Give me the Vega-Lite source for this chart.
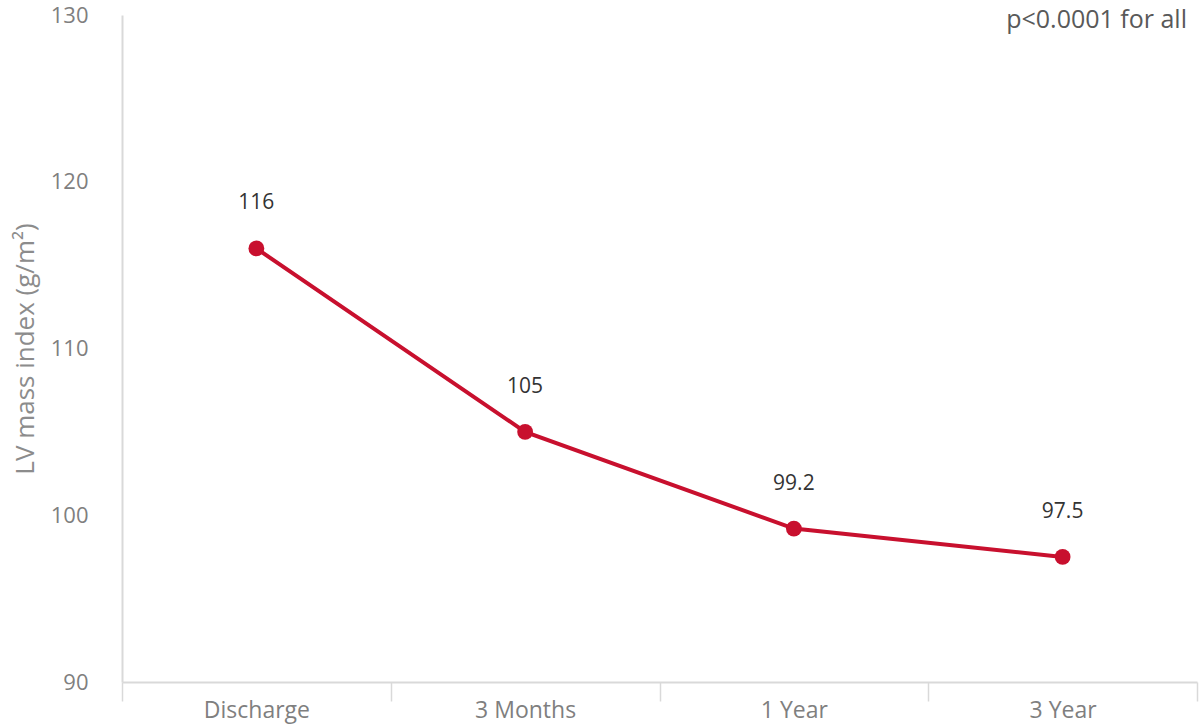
{
  "$schema": "https://vega.github.io/schema/vega-lite/v6.json",
  "width": 1075,
  "height": 667,
  "autosize": "none",
  "padding": {"left": 122, "top": 15, "right": 2, "bottom": 45},
  "background": "white",
  "config": {"view": {"stroke": null}, "font": "Open Sans"},
  "title": {"text": "p<0.0001 for all", "anchor": "end", "frame": "group", "orient": "top", "offset": -12, "dx": -10, "dy": 17, "fontSize": 25, "fontWeight": "normal", "color": "#595959"},
  "data": {"values": [
    {"time": "Discharge", "lvmi": 116, "label": "116"},
    {"time": "3 Months", "lvmi": 105, "label": "105"},
    {"time": "1 Year", "lvmi": 99.2, "label": "99.2"},
    {"time": "3 Year", "lvmi": 97.5, "label": "97.5"}
  ]},
  "encoding": {
    "x": {"field": "time", "type": "nominal", "sort": null,
      "axis": {"title": null, "labelAngle": 0, "tickBand": "extent", "tickSize": 19, "tickColor": "#d9d9d9", "tickWidth": 1.5,
        "domainColor": "#d9d9d9", "domainWidth": 2, "labelColor": "#7f7f7f", "labelFontSize": 23, "labelPadding": -2, "labelBaseline": "top"}},
    "y": {"field": "lvmi", "type": "quantitative", "scale": {"domain": [90, 130], "nice": false},
      "axis": {"title": "LV mass index (g/m²)", "values": [90, 100, 110, 120, 130], "grid": false, "ticks": false, "domainColor": "#d9d9d9", "domainWidth": 2,
        "labelColor": "#7f7f7f", "labelFontSize": 22, "labelPadding": 34, "titleColor": "#8c8c8c", "titleFontSize": 26, "titleFontWeight": "normal", "titlePadding": 12}}
  },
  "layer": [
    {"mark": {"type": "line", "color": "#c8102e", "strokeWidth": 4}},
    {"mark": {"type": "point", "filled": true, "color": "#c8102e", "size": 250, "opacity": 1}},
    {"mark": {"type": "text", "dy": -45, "fontSize": 21, "color": "#333333"}, "encoding": {"text": {"field": "label"}}}
  ]
}
